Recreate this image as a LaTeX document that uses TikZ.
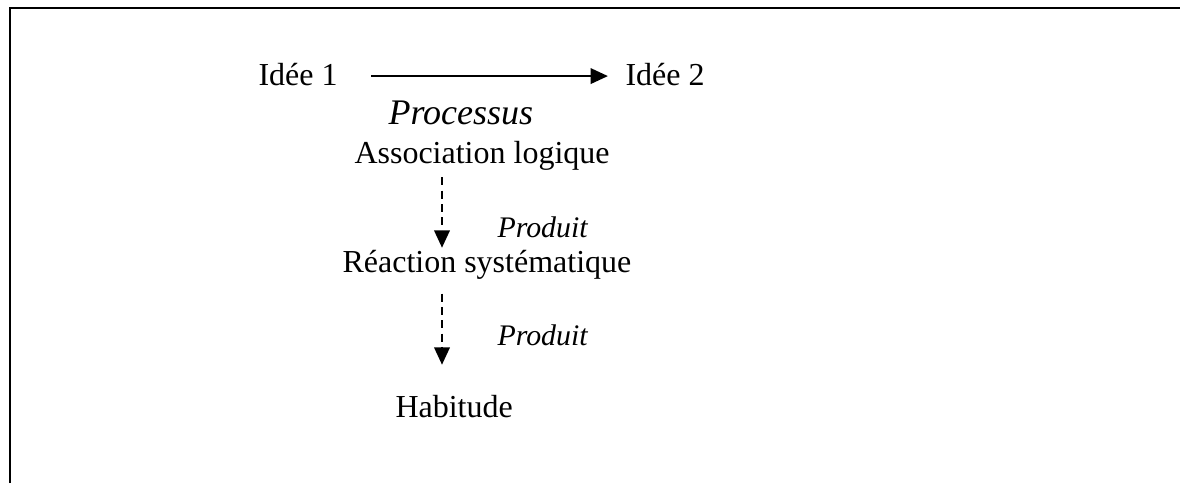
\documentclass[tikz,border=0pt]{standalone}
\usepackage{fontspec}
\setmainfont{Liberation Serif}
\usepackage{tikz}
\usetikzlibrary{arrows.meta,positioning,calc}

\tikzset{
    idea/.style={anchor=base west, inner sep=0pt, font=\fontsize{12pt}{14pt}\selectfont, text height=8.5pt, text depth=2.6pt},
    proclabel/.style={anchor=base west, inner sep=0pt, font=\fontsize{13.5pt}{16pt}\selectfont\itshape},
    prodlabel/.style={anchor=base west, inner sep=0pt, font=\fontsize{11.2pt}{13pt}\selectfont\itshape},
    solidarrow/.style={line width=0.8pt, -{Triangle[length=6.5pt,width=5.8pt]}},
    prodarrow/.style={line width=0.8pt, dash pattern=on 3pt off 2pt, -{Triangle[length=6.5pt,width=5.8pt]}}
}

\begin{document}
\begin{tikzpicture}[x=0.375pt, y=-0.375pt]
    \useasboundingbox (0,0) rectangle (1180,483);
    % frame
    \draw[line width=0.8pt] (10,483) -- (10,8) -- (1180,8);

    \node[idea] (idee1) at (258,85) {Idée 1};
    \node[idea] (idee2) at (625,85) {Idée 2};
    \node[proclabel] (processus) at (388,124) {Processus};
    \node[idea] (assoc) at (354,163) {Association logique};
    \node[prodlabel] (produit1) at (497,237) {Produit};
    \node[idea] (reaction) at (342,272) {Réaction systématique};
    \node[prodlabel] (produit2) at (497,345) {Produit};
    \node[idea] (habitude) at (395,417) {Habitude};

    \coordinate (axis) at (442,0);

    \draw[solidarrow, shorten <=12.4pt, shorten >=6.4pt] ([yshift=0.4pt]idee1.east) -- ([yshift=0.4pt]idee2.west);
    \draw[prodarrow, shorten <=2.6pt, shorten >=0.4pt] (assoc.south -| axis) -- (reaction.north -| axis);
    \draw[prodarrow, shorten <=5.3pt, shorten >=10.9pt] (reaction.south -| axis) -- (habitude.north -| axis);
\end{tikzpicture}
\end{document}
